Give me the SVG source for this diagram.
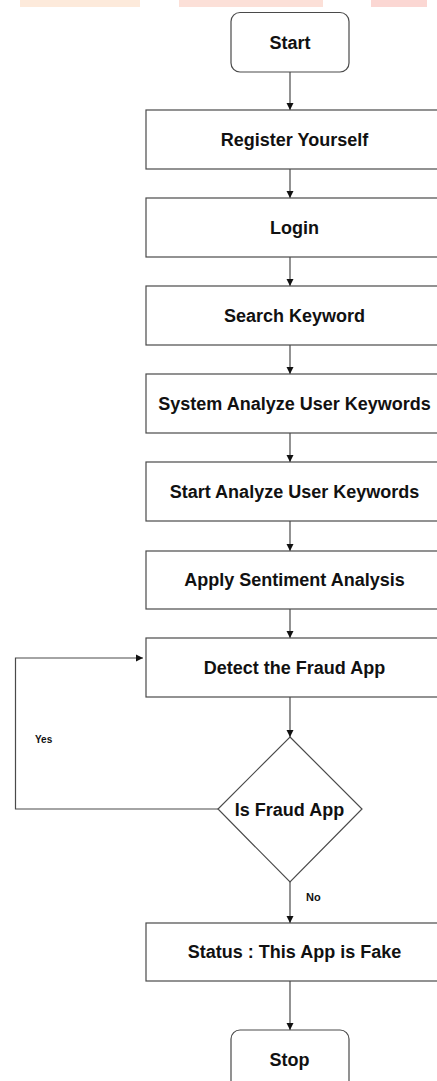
<svg xmlns="http://www.w3.org/2000/svg" width="437" height="1081" viewBox="0 0 437 1081">
<style>
.box{fill:#fff;stroke:#4a4a4a;stroke-width:1.2}
.lbl{font-family:"Liberation Sans",Arial,sans-serif;font-weight:bold;font-size:18px;fill:#111;text-anchor:middle}
.sm{font-family:"Liberation Sans",Arial,sans-serif;font-weight:bold;fill:#111}
.con{fill:none;stroke:#4a4a4a;stroke-width:1.2}
</style>
<defs>
<marker id="ah" markerWidth="8" markerHeight="8" refX="7" refY="4" orient="auto" markerUnits="userSpaceOnUse">
<path d="M0,0.5 L7,4 L0,7.5 Z" fill="#111"/>
</marker>
</defs>
<rect width="437" height="1081" fill="#fff"/>
<g id="banner">
<rect x="20" y="0" width="120" height="7" fill="#fdeadb"/>
<rect x="179" y="0" width="144" height="7" fill="#fce0d8"/>
<rect x="371" y="0" width="56" height="7" fill="#fbd7d3"/>
</g>
<g id="connectors">
<line class="con" x1="290" y1="72" x2="290" y2="110" marker-end="url(#ah)"/>
<line class="con" x1="290" y1="169" x2="290" y2="198" marker-end="url(#ah)"/>
<line class="con" x1="290" y1="257" x2="290" y2="286" marker-end="url(#ah)"/>
<line class="con" x1="290" y1="345" x2="290" y2="374" marker-end="url(#ah)"/>
<line class="con" x1="290" y1="433" x2="290" y2="462" marker-end="url(#ah)"/>
<line class="con" x1="290" y1="521" x2="290" y2="551" marker-end="url(#ah)"/>
<line class="con" x1="290" y1="609" x2="290" y2="638" marker-end="url(#ah)"/>
<line class="con" x1="290" y1="697" x2="290" y2="737" marker-end="url(#ah)"/>
<polyline class="con" points="218,809 15.5,809 15.5,658 143,658" marker-end="url(#ah)"/>
<line class="con" x1="290" y1="882" x2="290" y2="923" marker-end="url(#ah)"/>
<line class="con" x1="290" y1="981" x2="290" y2="1030" marker-end="url(#ah)"/>
<text class="sm" x="35" y="743" font-size="10">Yes</text>
<text class="sm" x="306" y="901" font-size="11">No</text>
</g>
<g id="start">
<rect class="box" x="231" y="12.5" width="118" height="59.5" rx="9"/>
<text class="lbl" x="290" y="49">Start</text>
</g>
<g id="register">
<rect class="box" x="146" y="110" width="297" height="59"/>
<text class="lbl" x="294.5" y="146">Register Yourself</text>
</g>
<g id="login">
<rect class="box" x="146" y="198" width="297" height="59"/>
<text class="lbl" x="294.5" y="234">Login</text>
</g>
<g id="search">
<rect class="box" x="146" y="286" width="297" height="59"/>
<text class="lbl" x="294.5" y="322">Search Keyword</text>
</g>
<g id="system">
<rect class="box" x="146" y="374" width="297" height="59"/>
<text class="lbl" x="294.5" y="410">System Analyze User Keywords</text>
</g>
<g id="startanalyze">
<rect class="box" x="146" y="462" width="297" height="59"/>
<text class="lbl" x="294.5" y="498">Start Analyze User Keywords</text>
</g>
<g id="apply">
<rect class="box" x="146" y="551" width="297" height="58"/>
<text class="lbl" x="294.5" y="586">Apply Sentiment Analysis</text>
</g>
<g id="detect">
<rect class="box" x="146" y="638" width="297" height="59"/>
<text class="lbl" x="294.5" y="674">Detect the Fraud App</text>
</g>
<g id="isfraud">
<polygon class="box" points="290,737 362,809 290,882 218,809"/>
<text class="lbl" x="289.5" y="816">Is Fraud App</text>
</g>
<g id="status">
<rect class="box" x="146" y="923" width="297" height="58"/>
<text class="lbl" x="294.5" y="958">Status : This App is Fake</text>
</g>
<g id="stop">
<rect class="box" x="231" y="1030" width="118" height="70" rx="9"/>
<text class="lbl" x="289.5" y="1066">Stop</text>
</g>
</svg>
